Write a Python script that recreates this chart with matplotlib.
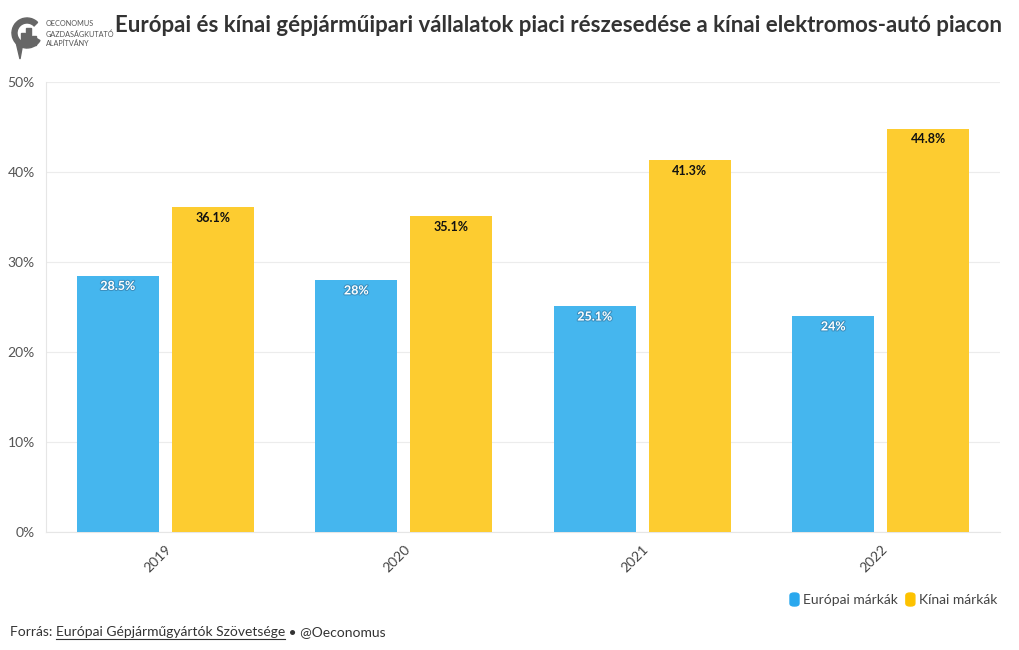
import matplotlib
matplotlib.use("Agg")
import matplotlib.pyplot as plt
import matplotlib.patheffects as pe
from matplotlib.patches import FancyBboxPatch, Wedge, Rectangle, Polygon
import numpy as np

years = ["2019", "2020", "2021", "2022"]
european = [28.5, 28.0, 25.1, 24.0]
chinese = [36.1, 35.1, 41.3, 44.8]
eu_labels = ["28.5%", "28%", "25.1%", "24%"]
cn_labels = ["36.1%", "35.1%", "41.3%", "44.8%"]
yticks = [0, 10, 20, 30, 40, 50]

plt.rcParams['font.family'] = ['Lato', 'DejaVu Sans']

BLUE = "#45b6ee"
YELLOW = "#fdcc30"

fig = plt.figure(figsize=(10.2, 6.5), dpi=100)
ax = fig.add_axes([46/1020, 1-532/650, (1000-46)/1020, (532-82)/650])

x = np.arange(len(years))
w = 0.344
off = 0.199
ax.bar(x - off, european, w, color=BLUE, zorder=3)
ax.bar(x + off, chinese, w, color=YELLOW, zorder=3)

for i in range(len(years)):
    ax.annotate(eu_labels[i], (x[i] - off, european[i]), xytext=(0, -7.5), textcoords="offset points",
                ha="center", va="center", fontsize=9, fontweight="bold", color="white",
                path_effects=[pe.withStroke(linewidth=1.5, foreground="#3a8fbf")], zorder=4)
    ax.annotate(cn_labels[i], (x[i] + off, chinese[i]), xytext=(0, -7.5), textcoords="offset points",
                ha="center", va="center", fontsize=9, fontweight="bold", color="#111111", zorder=4)

ax.set_xlim(-0.5, 3.5)
ax.set_ylim(0, 50)
ax.set_yticks(yticks)
ax.set_yticklabels([f"{v}%" for v in yticks])
ax.set_xticks(x)
ax.set_xticklabels(years, rotation=45, ha="right", rotation_mode="anchor")
ax.tick_params(axis="y", length=0, labelsize=10, labelcolor="#555555", pad=8)
ax.tick_params(axis="x", length=0, labelsize=10, labelcolor="#444444", pad=8)
ax.grid(axis="y", color="#ececec", linewidth=0.8, zorder=0)
for s in ["top", "right"]:
    ax.spines[s].set_visible(False)
ax.spines["left"].set_color("#e6e6e6")
ax.spines["bottom"].set_color("#e6e6e6")
ax.spines["left"].set_linewidth(0.8)
ax.spines["bottom"].set_linewidth(0.8)

# Title
fig.text(115/1020, 1-25/650, "Európai és kínai gépjárműipari vállalatok piaci részesedése a kínai elektromos-autó piacon",
         fontsize=16, fontweight="bold", color="#333333", ha="left", va="center")

# Logo
lax = fig.add_axes([10/1020, 1-62/650, 36/1020, 48/650])
lax.set_xlim(0, 36); lax.set_ylim(0, 48)
lax.axis("off")
G = "#666666"
lax.add_patch(Wedge((17, 29), 15, 45, 330, width=5, color=G))
lax.add_patch(Polygon([[6, 20], [12, 14], [10, 3]], color=G))
lax.add_patch(Rectangle((11, 17), 4.5, 12, color=G))
lax.add_patch(Rectangle((16.5, 17), 4.5, 17, color=G))
lax.add_patch(Rectangle((22, 17), 4.5, 9, color=G))
for k, s in enumerate(["OECONOMUS", "GAZDASÁGKUTATÓ", "ALAPÍTVÁNY"]):
    fig.text(46/1020, 1-(24 + 10*k)/650, s, fontsize=5.2, color="#555555", va="center")

# Legend
fig.canvas.draw()
r = fig.canvas.get_renderer()

def leg_item(xp, color, label):
    fig.patches.append(FancyBboxPatch((xp/1020, 1-606/650), 9/1020, 13/650,
                                      boxstyle="round,pad=0,rounding_size=0.004",
                                      transform=fig.transFigure, color=color, figure=fig))
    t = fig.text((xp+13)/1020, 1-600/650, label, fontsize=10, color="#444444", va="center")
    return t.get_window_extent(r).x1

e = leg_item(790, "#2aa8ee", "Európai márkák")
leg_item(e + 8, "#fdc200", "Kínai márkák")

# Source
t1 = fig.text(10/1020, 1-632/650, "Forrás: ", fontsize=10, color="#333333", va="center")
bb = t1.get_window_extent(r)
t2 = fig.text(bb.x1/1020, 1-632/650, "Európai Gépjárműgyártók Szövetsége", fontsize=10, color="#333333", va="center")
bb2 = t2.get_window_extent(r)
fig.add_artist(plt.Line2D([bb2.x0/1020, bb2.x1/1020], [1-639/650, 1-639/650], color="#333333", linewidth=0.8))
fig.text(bb2.x1/1020, 1-632/650, " • @Oeconomus", fontsize=10, color="#333333", va="center")

fig.savefig("out.png", dpi=100)
